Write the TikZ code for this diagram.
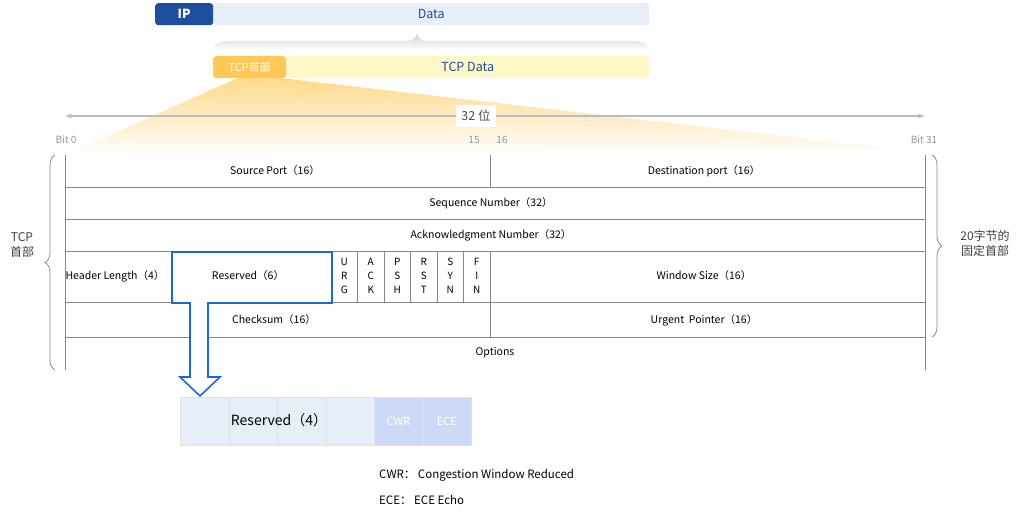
\documentclass[tikz,border=0pt]{standalone}
\usepackage{fontspec}
\setmainfont{Noto Sans CJK SC}
\usetikzlibrary{positioning, calc, decorations.pathreplacing}
\definecolor{ipblue}{HTML}{1F4E9E}
\definecolor{datablue}{HTML}{E6EEF8}
\definecolor{hdrorange}{HTML}{FFC857}
\definecolor{tcpyellow}{HTML}{FFF7C6}
\definecolor{hiblue}{HTML}{1A66E0}
\definecolor{flagblue}{HTML}{CCD9F7}
\definecolor{linegray}{HTML}{888888}
\definecolor{axisgray}{HTML}{B5BEC8}
\begin{document}
\begin{tikzpicture}[x=1pt, y=-1pt,
    every node/.style={font=\fontsize{10.5}{12}\selectfont, inner sep=1pt},
    bar/.style={rectangle, minimum height=22pt, inner sep=0pt, anchor=north west},
    cell/.style={rectangle, draw=datablue!70!gray!60, minimum width=48.5pt, minimum height=48pt, inner sep=0pt, anchor=north west},
    field/.style={text=black},
    bitlabel/.style={text=axisgray!80!black, font=\fontsize{10}{11}\selectfont},
    grid/.style={draw=linegray, line width=0.6pt}
]
    \useasboundingbox (0,0) rectangle (1024,518);
    % packet bars
    \node[bar, fill=datablue, rounded corners=3pt, minimum width=436pt] (data) at (213,3) {};
    \node[text=ipblue, font=\fontsize{12.5}{14}\selectfont] at (data.center) {Data};
    \node[bar, fill=ipblue, rounded corners=3pt, minimum width=58pt, text=white, font=\fontsize{12.5}{14}\selectfont\bfseries] (ip) at (155,3) {IP};
    \shade[top color=axisgray!70, bottom color=white]
        (213,50) to[out=90,in=180] (228,41) -- (405,41) to[out=0,in=-90] (417,33)
        to[out=-90,in=180] (429,41) -- (634,41) to[out=0,in=90] (649,50) -- cycle;
    \node[bar, fill=tcpyellow, rounded corners=3pt, minimum width=363pt] (tcpdata) at (286,56) {};
    \node[text=ipblue, font=\fontsize{12.5}{14}\selectfont] at (tcpdata.center) {TCP Data};
    \node[bar, fill=hdrorange, rounded corners=3pt, minimum width=73pt, text=white, font=\fontsize{11}{12}\selectfont] (tcphdr) at (213,56) {TCP首部};
    % fan
    \shade[top color=hdrorange!70, bottom color=white]
        (238,78) -- (65,155) -- (490,152) -- (905,150) -- (280,78) -- cycle;
    % 32 bit axis
    \coordinate (axl) at (65,116);
    \coordinate (axr) at (925,116);
    \draw[axisgray, line width=1.2pt, latex-latex] (axl) -- (axr);
    \node[fill=white, inner sep=5pt, text=black!70, font=\fontsize{12.5}{14}\selectfont] (bits) at (476,116) {32 位};
    \node[bitlabel] (b0) at (66,140) {Bit 0};
    \node[bitlabel] (b15) at (474,140) {15};
    \node[bitlabel] (b16) at (502,140) {16};
    \node[bitlabel] (b31) at (924,140) {Bit 31};
    % header table
    \draw[grid] (65,155) -- (65,370) (925,155) -- (925,370);
    \draw[grid] (65,187) -- (925,187) (65,219) -- (925,219) (65,251) -- (925,251)
        (65,302) -- (925,302) (65,337) -- (925,337);
    \draw[grid] (490,155) -- (490,187) (490,251) -- (490,337);
    \foreach \x in {331,357.5,384,410.5,437,463.5} \draw[grid] (\x,251) -- (\x,302);
    \node[field] (srcport) at (275,171) {Source Port（16）};
    \node[field] (dstport) at (704,171) {Destination port（16）};
    \node[field] (seq) at (491,203) {Sequence Number（32）};
    \node[field] (ack) at (491,235) {Acknowledgment Number（32）};
    \node[field] (hlen) at (115,276) {Header Length（4）};
    \node[field] (resv) at (248,276) {Reserved（6）};
    \foreach \a/\b/\c [count=\i] in {U/R/G,A/C/K,P/S/H,R/S/T,S/Y/N,F/I/N}
        \node[field, align=center, font=\fontsize{10}{14}\selectfont] (flag\i) at ({331+(\i-0.5)*26.5},276)
            {\a\\\b\\\c};
    \node[field] (win) at (704,276) {Window Size（16）};
    \node[field] (csum) at (274,320) {Checksum（16）};
    \node[field] (urg) at (704,320) {Urgent\ \ Pointer（16）};
    \node[field] (opts) at (495,353) {Options};
    % braces
    \draw[linegray, line width=0.8pt, decorate, decoration={brace, amplitude=10pt}] (55,370) -- (55,155);
    \node[text=black!75, align=center, font=\fontsize{12}{15}\selectfont] (tcplbl) at (22,245) {TCP\\首部};
    \draw[linegray, line width=0.8pt, decorate, decoration={brace, amplitude=10pt}] (932,155) -- (932,337);
    \node[text=black!75, align=center, font=\fontsize{12}{15}\selectfont] (fixlbl) at (985,243) {20字节的\\固定首部};
    % highlight and hollow arrow
    \node[draw=hiblue, line width=2pt, minimum width=160pt, minimum height=51pt, anchor=north west] (hl) at (171,251) {};
    \draw[hiblue, line width=1.6pt, fill=white]
        (190,302) -- (190,377) -- (180,377) -- (200,396) -- (220,377) -- (208,377) -- (208,302);
    % reserved bits
    \foreach \i in {0,...,3}
        \node[cell, fill=datablue] (r\i) at ({180+\i*48.5},397) {};
    \node[cell, fill=flagblue, text=white, font=\fontsize{11}{12}\selectfont] (cwr) at (374,397) {CWR};
    \node[cell, fill=flagblue, text=white, font=\fontsize{11}{12}\selectfont] (ece) at (422.5,397) {ECE};
    \node[font=\fontsize{14}{16}\selectfont] (resv4) at (279,420) {Reserved（4）};
    \node[anchor=west, font=\fontsize{11.5}{13}\selectfont] (cwrnote) at (378,475) {CWR：\ Congestion Window Reduced};
    \node[anchor=west, font=\fontsize{11.5}{13}\selectfont] (ecenote) at (378,500) {ECE：\ ECE Echo};
\end{tikzpicture}
\end{document}
